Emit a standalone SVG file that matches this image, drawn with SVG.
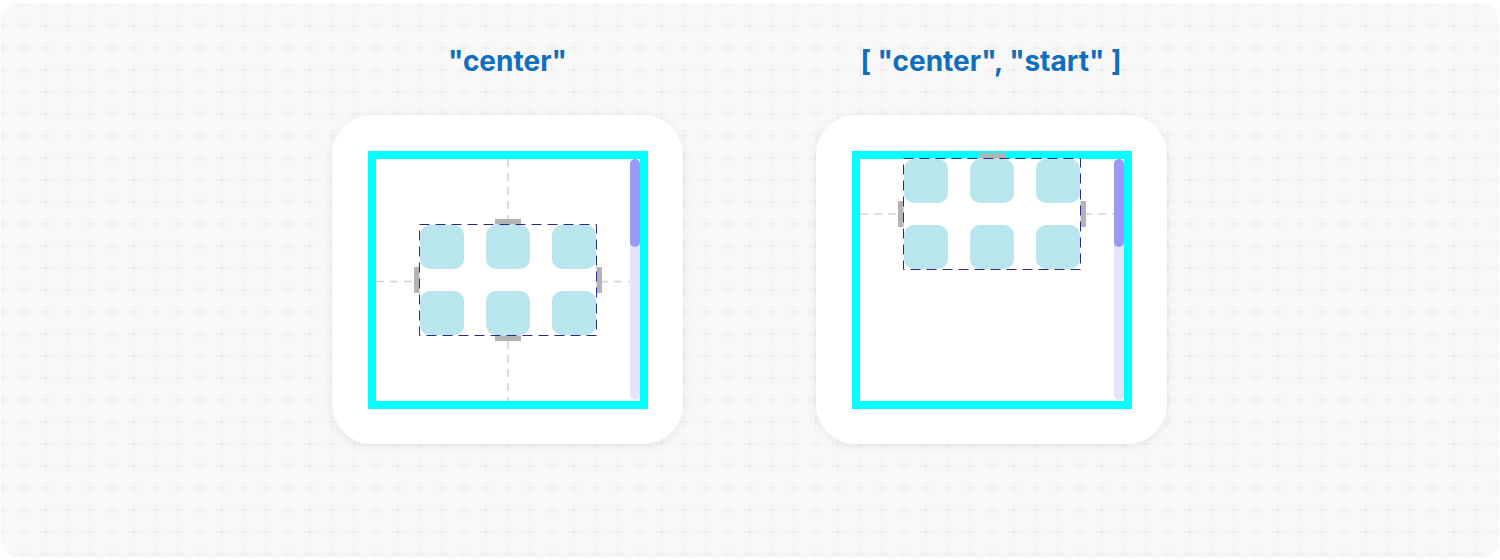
<svg xmlns="http://www.w3.org/2000/svg" width="1500" height="560" viewBox="0 0 1500 560">
  <defs>
    <pattern id="grid" x="-9" y="-7" width="22" height="22" patternUnits="userSpaceOnUse">
      <path d="M5 11H17M11 5V17" stroke="#ebebeb" stroke-width="1"/>
    </pattern>
    <filter id="bgShadow" x="-5%" y="-5%" width="110%" height="110%">
      <feDropShadow dx="0" dy="1" stdDeviation="1.5" flood-color="#000" flood-opacity="0.08"/>
    </filter>
    <filter id="cardShadow" x="-10%" y="-10%" width="120%" height="120%">
      <feDropShadow dx="0" dy="2" stdDeviation="4" flood-color="#000" flood-opacity="0.08"/>
    </filter>
    <style>
      .title { font-family: Inter, "Liberation Sans", sans-serif; font-weight: 700; font-size: 28px; fill: #0f6ebe; text-anchor: middle; }
      .card { fill: #ffffff; filter: url(#cardShadow); }
      .frame { fill: none; stroke: #00ffff; stroke-width: 8; }
      .guide { stroke: #d2d2d2; stroke-width: 1.5; stroke-dasharray: 8 6; fill: none; }
      .track { fill: #e4e4fb; }
      .thumb { fill: #9999fa; }
      .box { fill: #ffffff; stroke: #2a2a8c; stroke-width: 1; stroke-dasharray: 10 6; }
      .handle { fill: #b3b3b3; }
      .tile { fill: #b8e6ec; }
    </style>
  </defs>

  <rect x="2" y="4" width="1496" height="551" rx="16" fill="#f8f8f8" filter="url(#bgShadow)"/>
  <rect x="2" y="4" width="1496" height="551" rx="16" fill="url(#grid)"/>

  <text class="title" x="507.5" y="71">"center"</text>
  <text class="title" x="991" y="71">[ "center", "start" ]</text>

  <g id="panel-center">
    <rect class="card" x="332" y="115" width="351" height="329" rx="40"/>
    <line class="guide" x1="508" y1="159" x2="508" y2="401"/>
    <line class="guide" x1="376" y1="281.5" x2="640" y2="281.5"/>
    <rect class="track" x="630" y="159" width="10" height="241" rx="5"/>
    <rect class="thumb" x="630" y="159" width="10" height="88" rx="5"/>
    <rect class="frame" x="372" y="155" width="272" height="250"/>
    <rect class="handle" x="495" y="219" width="26" height="6"/>
    <rect class="handle" x="495" y="335" width="26" height="6"/>
    <rect class="handle" x="414" y="267" width="6" height="26"/>
    <rect class="handle" x="596" y="267" width="6" height="26"/>
    <rect class="box" x="419.5" y="224.5" width="177" height="111"/>
    <rect class="tile" x="420" y="225" width="44" height="44" rx="10"/>
    <rect class="tile" x="486" y="225" width="44" height="44" rx="10"/>
    <rect class="tile" x="552" y="225" width="44" height="44" rx="10"/>
    <rect class="tile" x="420" y="291" width="44" height="44" rx="10"/>
    <rect class="tile" x="486" y="291" width="44" height="44" rx="10"/>
    <rect class="tile" x="552" y="291" width="44" height="44" rx="10"/>
  </g>

  <g id="panel-center-start">
    <rect class="card" x="816" y="115" width="351" height="329" rx="40"/>
    <line class="guide" x1="860" y1="214" x2="1124" y2="214"/>
    <rect class="track" x="1114" y="159" width="10" height="241" rx="5"/>
    <rect class="thumb" x="1114" y="159" width="10" height="88" rx="5"/>
    <rect class="frame" x="856" y="155" width="272" height="250"/>
    <rect class="handle" x="979" y="153" width="26" height="6"/>
    <rect class="handle" x="898" y="201" width="6" height="26"/>
    <rect class="handle" x="1080" y="201" width="6" height="26"/>
    <rect class="box" x="903.5" y="158.5" width="177" height="111"/>
    <rect class="tile" x="904" y="159" width="44" height="44" rx="10"/>
    <rect class="tile" x="970" y="159" width="44" height="44" rx="10"/>
    <rect class="tile" x="1036" y="159" width="44" height="44" rx="10"/>
    <rect class="tile" x="904" y="225" width="44" height="44" rx="10"/>
    <rect class="tile" x="970" y="225" width="44" height="44" rx="10"/>
    <rect class="tile" x="1036" y="225" width="44" height="44" rx="10"/>
  </g>

  <g id="connectors"></g>
</svg>
